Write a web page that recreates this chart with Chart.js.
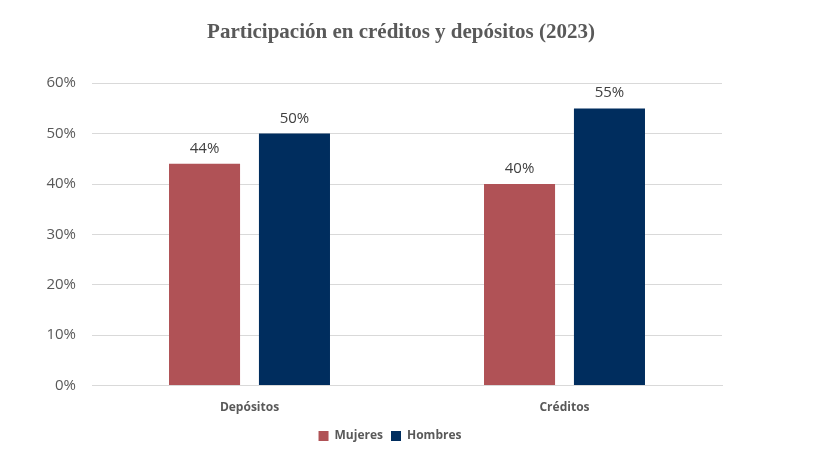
<!DOCTYPE html>
<html>
<head>
<meta charset="utf-8">
<script src="https://cdn.jsdelivr.net/npm/chart.js@4"></script>
<style>
  html, body { margin: 0; padding: 0; background: #ffffff; }
  #wrap { width: 822px; height: 466px; }
</style>
</head>
<body>
<div id="wrap"><canvas id="chart" width="822" height="466"></canvas></div>
<script>
const categories = ['Depósitos', 'Créditos'];
const mujeres = [44, 40];
const hombres = [50, 55];
const yTicks = [0, 10, 20, 30, 40, 50, 60];

const textGray = '#595959';

// value labels above each bar
const barLabels = {
  id: 'barLabels',
  afterDatasetsDraw(chart) {
    const ctx = chart.ctx;
    ctx.save();
    ctx.font = '15px "Open Sans", sans-serif';
    ctx.fillStyle = '#404040';
    ctx.textAlign = 'center';
    ctx.textBaseline = 'alphabetic';
    chart.data.datasets.forEach((ds, i) => {
      chart.getDatasetMeta(i).data.forEach((bar, j) => {
        ctx.fillText(ds.data[j] + '%', bar.x, bar.y - 11);
      });
    });
    ctx.restore();
  },
};

// title and legend sit a bit right of the padded layout box
const shiftBoxes = {
  id: 'shiftBoxes',
  afterLayout(chart) {
    const t = chart.titleBlock;
    if (t) { t.left += 40; t.right += 40; }
    const l = chart.legend;
    if (l) { l.left += 29; l.right += 29; }
  },
};

new Chart(document.getElementById('chart'), {
  type: 'bar',
  data: {
    labels: categories,
    datasets: [
      { label: 'Mujeres', data: mujeres, backgroundColor: '#B05256' },
      { label: 'Hombres', data: hombres, backgroundColor: '#002D5E' },
    ],
  },
  options: {
    responsive: false,
    animation: false,
    categoryPercentage: 0.571,
    barPercentage: 0.79,
    layout: { padding: { left: 0, right: 100, top: 0, bottom: 14 } },
    plugins: {
      title: {
        display: true,
        text: 'Participación en créditos y depósitos (2023)',
        color: textGray,
        font: { family: '"Liberation Serif", serif', size: 21, weight: 'bold' },
        padding: { top: 20, bottom: 38 },
      },
      legend: {
        position: 'bottom',
        labels: {
          color: textGray,
          boxWidth: 10,
          boxHeight: 10,
          padding: 8,
          font: { family: '"Open Sans", sans-serif', size: 12, weight: 'bold' },
        },
      },
      tooltip: { enabled: false },
    },
    scales: {
      x: {
        grid: { display: false },
        border: { color: '#d9d9d9' },
        ticks: {
          color: textGray,
          padding: 7,
          font: { family: '"Open Sans", sans-serif', size: 12, weight: 'bold' },
        },
      },
      y: {
        min: 0,
        max: 60,
        afterFit(axis) { axis.width = 92; },
        afterBuildTicks(axis) { axis.ticks = yTicks.map((v) => ({ value: v })); },
        grid: { color: '#d9d9d9', drawTicks: false },
        border: { display: false },
        ticks: {
          color: textGray,
          padding: 16,
          font: { family: '"Open Sans", sans-serif', size: 15 },
          callback: (v) => v + '%',
        },
      },
    },
  },
  plugins: [barLabels, shiftBoxes],
});
</script>
</body>
</html>
